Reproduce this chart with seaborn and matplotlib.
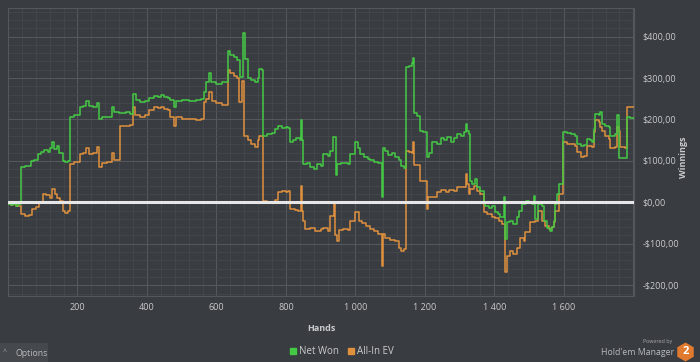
import numpy as np
import pandas as pd
import matplotlib
matplotlib.use("Agg")
import matplotlib.pyplot as plt
import seaborn as sns
from matplotlib.ticker import FixedLocator, MultipleLocator, FuncFormatter
from matplotlib.lines import Line2D
from matplotlib.patches import Rectangle, RegularPolygon

# ---------------- data ----------------
net_hands = [0, 8, 14, 22, 30, 36, 50, 65, 75, 85, 95, 105, 115, 122, 128, 133, 140, 148, 157, 165, 172,
             178, 190, 206, 215, 225, 232, 245, 255, 261, 270, 285, 300, 305, 320, 340, 350, 360, 368, 380,
             395, 405, 420, 432, 440, 450, 460, 467, 477, 485, 500, 520, 540, 555, 563, 570, 578, 584, 600,
             615, 632, 640, 650, 658, 668, 677, 683, 690, 700, 712, 720, 723, 730, 735, 745, 760, 770, 778,
             790, 800, 807, 813, 820, 830, 840, 843, 846, 848, 860, 870, 880, 890, 900, 908, 920, 928, 935,
             945, 947, 960, 980, 985, 1000, 1008, 1014, 1025, 1035, 1043, 1053, 1065, 1077, 1080, 1086,
             1095, 1105, 1115, 1125, 1132, 1139, 1147, 1155, 1163, 1166, 1170, 1178, 1187, 1195, 1201,
             1206, 1212, 1220, 1235, 1245, 1255, 1265, 1275, 1283, 1293, 1305, 1312, 1317, 1321, 1326,
             1331, 1336, 1345, 1350, 1360, 1369, 1374, 1385, 1393, 1403, 1410, 1417, 1427, 1430, 1436,
             1445, 1455, 1465, 1472, 1480, 1490, 1500, 1508, 1513, 1518, 1527, 1537, 1542, 1551, 1560,
             1566, 1571, 1575, 1580, 1585, 1599, 1610, 1620, 1633, 1638, 1648, 1657, 1667, 1675, 1681,
             1686, 1691, 1700, 1705, 1710, 1719, 1729, 1734, 1748, 1753, 1758, 1760, 1777, 1782, 1790, 1801]
net_won = [-3, -7, -4, -8, -5, 85, 88, 100, 103, 117, 122, 127, 122, 130, 145, 128, 135, 120, 100, 97, 100,
           206, 210, 230, 233, 245, 232, 230, 240, 202, 207, 205, 231, 217, 216, 218, 214, 261, 248, 242,
           245, 252, 257, 255, 260, 255, 253, 246, 231, 244, 247, 245, 248, 250, 266, 290, 311, 290, 285,
           290, 365, 355, 350, 343, 302, 408, 345, 300, 295, 290, 300, 321, 320, 161, 165, 168, 178, 185,
           180, 183, 180, 145, 150, 155, 150, 198, 150, 93, 96, 85, 80, 93, 88, 117, 112, 125, 158,
           65, 93, 95, 93, 117, 145, 130, 117, 110, 104, 101, 97, 95, 12, 130, 125,
           115, 120, 110, 101, 88, 84, 327, 330, 336, 348, 215, 208, 173, 170, 170,
           109, 120, 145, 140, 155, 150, 158, 145, 155, 165, 160, 170, 190, 173, 165,
           52, 45, 57, 36, 28, 0, -8, -13, -10, -24, -28, -36, 12, -88, -48,
           -44, -52, -36, -20, -3, 4, 0, -3, 16, -40, -3, -10, -44, -61, -69,
           -60, -44, -3, 20, 45, 170, 168, 165, 161, 142, 135, 138, 154, 150, 145,
           178, 214, 210, 218, 190, 185, 181, 161, 165, 210, 195, 106, 108, 206, 204, 202]

ev_hands = [0, 8, 14, 22, 30, 36, 50, 60, 70, 80, 90, 100, 110, 120, 128, 135, 142, 150, 157, 165, 172,
            178, 190, 206, 215, 225, 232, 245, 255, 261, 270, 285, 300, 305, 315, 321, 335, 350, 360, 365,
            380, 395, 405, 420, 432, 440, 450, 460, 467, 477, 485, 500, 520, 540, 555, 563, 570, 580, 586,
            600, 615, 632, 640, 650, 658, 665, 675, 680, 690, 700, 712, 720, 723, 730, 735, 745, 760, 770,
            778, 790, 800, 807, 813, 825, 835, 843, 846, 848, 855, 870, 885, 900, 908, 920, 928, 938, 941,
            947, 952, 965, 980, 985, 1000, 1010, 1020, 1030, 1043, 1053, 1065, 1077, 1080, 1086, 1100,
            1115, 1125, 1132, 1139, 1147, 1155, 1163, 1166, 1170, 1180, 1187, 1201, 1206, 1210, 1220,
            1235, 1245, 1260, 1270, 1283, 1293, 1307, 1317, 1321, 1326, 1331, 1340, 1350, 1360, 1369,
            1380, 1393, 1403, 1412, 1422, 1432, 1436, 1445, 1455, 1465, 1475, 1484, 1489, 1499, 1503,
            1518, 1527, 1537, 1546, 1556, 1566, 1571, 1575, 1585, 1599, 1610, 1620, 1633, 1638, 1648,
            1657, 1667, 1681, 1686, 1691, 1700, 1705, 1710, 1719, 1729, 1734, 1748, 1753, 1758, 1762,
            1777, 1782, 1801]
all_in_ev = [-3, -7, -5, -10, -8, -28, -32, -30, -15, -12, -2, 21, 18, 10, 33, 20, 10, 4, -22, -25, -20,
             93, 97, 117, 120, 130, 117, 118, 133, 85, 95, 97, 119, 101, 102, 185, 185, 187, 229, 210,
             206, 210, 222, 231, 228, 230, 225, 222, 206, 185, 205, 200, 202, 198, 200, 242, 250, 266, 245,
             240, 235, 319, 311, 305, 299, 242, 294, 161, 150, 140, 133, 150, 161, 160, 4, 2, 0, 5,
             24, 28, 25, 28, -15, -18, -20, 40, -20, -44, -64, -62, -69, -65, -62, -69, -32, -3, -80,
             -93, -66, -64, -66, -44, -24, -44, -50, -58, -64, -69, -77, -153, -77, -85, -90,
             -93, -109, -117, -112, 125, 122, 120, 145, 89, 89, 52, 52, -15, 12, 12,
             24, 30, 24, 30, 28, 36, 36, 69, 45, 21, 33, 40, 28, 21, -24,
             -28, -36, -38, -44, -52, -169, -129, -117, -125, -109, -85, -93, -72, -72, -48,
             -44, -20, -44, -56, -64, -60, -48, -20, 21, 145, 142, 140, 137, 121, 109,
             112, 137, 133, 170, 198, 194, 181, 172, 161, 154, 130, 133, 182, 172, 133,
             130, 231, 229]

x_tick_values = [200, 400, 600, 800, 1000, 1200, 1400, 1600]
y_tick_values = [-200, -100, 0, 100, 200, 300, 400]
series_names = ["Net Won", "All-In EV"]

# ---------------- style ----------------
BG = "#393c40"
GRID_MAJOR = "#54575c"
GRID_MINOR = "#44474b"
TXT = "#c9cbcd"
GREEN = "#44c944"
ORANGE = "#e0913e"

sns.set_theme(style="dark")
plt.rcParams["font.family"] = ["Open Sans", "DejaVu Sans"]

fig = plt.figure(figsize=(7.0, 3.62), dpi=100, facecolor=BG)
ax = fig.add_axes([8 / 700, 1 - 296 / 362, (634 - 8) / 700, (296 - 8) / 362])
ax.set_facecolor(BG)

df_net = pd.DataFrame({"hand": net_hands, "value": net_won})
df_ev = pd.DataFrame({"hand": ev_hands, "value": all_in_ev})

sns.lineplot(data=df_ev, x="hand", y="value", ax=ax, color=ORANGE, linewidth=1.1,
             drawstyle="steps-post", estimator=None, sort=False, zorder=3)
sns.lineplot(data=df_net, x="hand", y="value", ax=ax, color=GREEN, linewidth=1.1,
             drawstyle="steps-post", estimator=None, sort=False, zorder=4)
ax.axhline(0, color="#e6e6e6", linewidth=2.2, zorder=5)

ax.set_xlim(0, 1802)
ax.set_ylim(-226, 469)

# grid
ax.xaxis.set_major_locator(FixedLocator([0] + x_tick_values + [1800]))
ax.xaxis.set_minor_locator(MultipleLocator(40))
ax.yaxis.set_major_locator(FixedLocator(y_tick_values + [500]))
ax.yaxis.set_minor_locator(MultipleLocator(20))
ax.grid(True, which="major", color=GRID_MAJOR, linewidth=0.8, zorder=1)
ax.grid(True, which="minor", color=GRID_MINOR, linewidth=0.6, zorder=0)
ax.set_axisbelow(True)

def xfmt(v, pos):
    v = int(round(v))
    if v in x_tick_values:
        return f"{v:,}".replace(",", " ")
    return ""

def yfmt(v, pos):
    v = int(round(v))
    if v not in y_tick_values:
        return ""
    s = f"${abs(v)},00"
    return "-" + s if v < 0 else s

ax.xaxis.set_major_formatter(FuncFormatter(xfmt))
ax.yaxis.set_major_formatter(FuncFormatter(yfmt))
ax.yaxis.tick_right()
ax.yaxis.set_label_position("right")
ax.tick_params(axis="both", which="both", length=0, colors=TXT, labelsize=6.5)
ax.tick_params(axis="x", pad=5)
ax.tick_params(axis="y", pad=6)

ax.set_xlabel("Hands", color=TXT, fontsize=6.5, fontweight="bold", labelpad=9)
ax.set_ylabel("Winnings", color=TXT, fontsize=6.5, fontweight="bold", rotation=90)
ax.yaxis.set_label_coords((684 - 8) / 626, (296 - 157) / 288)
ax.yaxis.label.set_va("center")
ax.yaxis.label.set_ha("center")

for sp in ax.spines.values():
    sp.set_visible(True)
    sp.set_color(GRID_MAJOR)
    sp.set_linewidth(0.8)

# legend
handles = [Line2D([], [], marker="s", linestyle="none", color=GREEN, markersize=5),
           Line2D([], [], marker="s", linestyle="none", color=ORANGE, markersize=5)]
leg = fig.legend(handles, series_names, loc="center", bbox_to_anchor=(342 / 700, 1 - 352 / 362),
                 ncol=2, frameon=False, fontsize=7, handlelength=0.6, handletextpad=0.3,
                 columnspacing=0.9)
for t in leg.get_texts():
    t.set_color(TXT)

# options button
fig.add_artist(Rectangle((0, 0), 0.48, 0.19, transform=fig.dpi_scale_trans,
                         facecolor="#45484c", edgecolor="none"))
fig.text(3 / 700, 1 - 353 / 362, "^", color="#a0a2a4", fontsize=5, va="center", ha="left")
fig.text(15 / 700, 1 - 353 / 362, "Options", color="#b8babc", fontsize=6.3, va="center", ha="left")

# logo
fig.text(672 / 700, 1 - 342 / 362, "Powered by", color="#a8aaac", fontsize=3.8, va="center", ha="right")
fig.text(674 / 700, 1 - 352.5 / 362, "Hold'em Manager", color="#b8babc", fontsize=6.3, va="center", ha="right")
fig.add_artist(RegularPolygon((6.855, 0.10), numVertices=6, radius=0.095, orientation=0,
                              transform=fig.dpi_scale_trans, facecolor="#e07a2e", edgecolor="none"))
fig.text(685.5 / 700, 1 - 352 / 362, "2", color="white", fontsize=8, fontweight="bold",
         va="center", ha="center")

fig.savefig("out.png", dpi=100, facecolor=BG)
